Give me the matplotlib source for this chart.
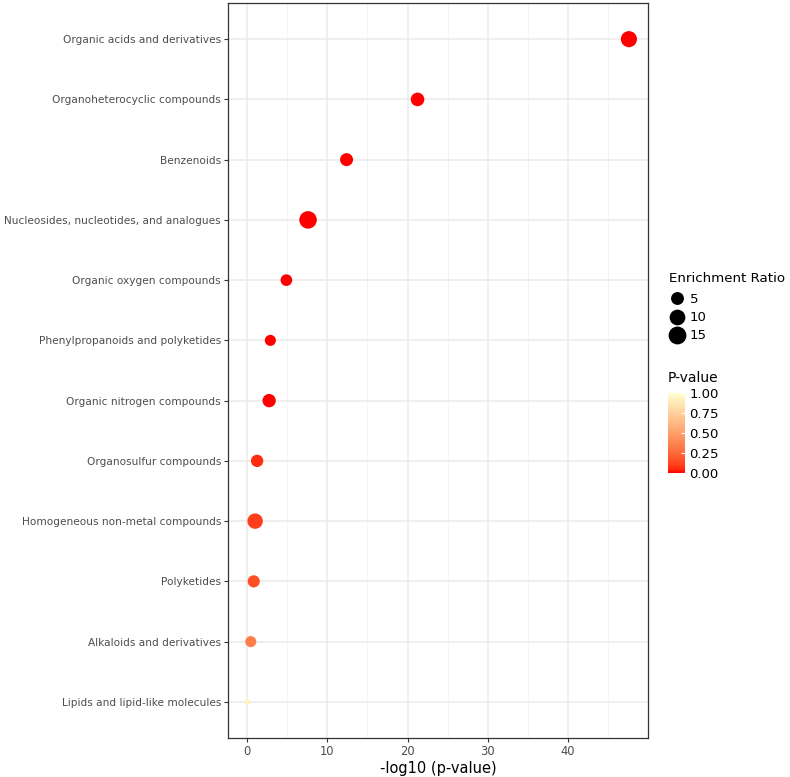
import numpy as np
import matplotlib
matplotlib.use("Agg")
import matplotlib.pyplot as plt
from matplotlib.colors import LinearSegmentedColormap, to_rgb
from matplotlib.lines import Line2D

categories = [
    "Organic acids and derivatives",
    "Organoheterocyclic compounds",
    "Benzenoids",
    "Nucleosides, nucleotides, and analogues",
    "Organic oxygen compounds",
    "Phenylpropanoids and polyketides",
    "Organic nitrogen compounds",
    "Organosulfur compounds",
    "Homogeneous non-metal compounds",
    "Polyketides",
    "Alkaloids and derivatives",
    "Lipids and lipid-like molecules",
]
neg_log_p = [47.6, 21.25, 12.4, 7.6, 4.9, 2.9, 2.75, 1.25, 1.0, 0.83, 0.46, 0.03]
enrichment = [14.2, 8.5, 7.4, 18.0, 5.3, 4.5, 8.0, 6.3, 12.5, 6.0, 4.5, 1.2]
size_breaks = [5, 10, 15]
p_breaks = [0.0, 0.25, 0.5, 0.75, 1.0]

DPI = 100


# ggplot-like gradient: interpolate red -> lightyellow in Lab space
def _lin(c):
    c = np.asarray(c)
    return np.where(c <= 0.04045, c / 12.92, ((c + 0.055) / 1.055) ** 2.4)


def _unlin(c):
    c = np.clip(c, 0, 1)
    return np.where(c <= 0.0031308, c * 12.92, 1.055 * c ** (1 / 2.4) - 0.055)


M = np.array([[0.4124, 0.3576, 0.1805],
              [0.2126, 0.7152, 0.0722],
              [0.0193, 0.1192, 0.9505]])
WHITE = np.array([0.95047, 1.0, 1.08883])


def rgb2lab(rgb):
    xyz = M @ _lin(rgb) / WHITE
    f = np.where(xyz > 0.008856, np.cbrt(xyz), 7.787 * xyz + 16 / 116)
    return np.array([116 * f[1] - 16, 500 * (f[0] - f[1]), 200 * (f[1] - f[2])])


def lab2rgb(lab):
    fy = (lab[0] + 16) / 116
    f = np.array([fy + lab[1] / 500, fy, fy - lab[2] / 200])
    xyz = np.where(f > 0.2069, f ** 3, (f - 16 / 116) / 7.787) * WHITE
    return _unlin(np.linalg.solve(M, xyz))


lo, hi = rgb2lab(to_rgb("#FF0000")), rgb2lab(to_rgb("#FFFFD0"))
stops = [lab2rgb(lo + t * (hi - lo)) for t in np.linspace(0, 1, 21)]
cmap = LinearSegmentedColormap.from_list("pval", stops)

pvals = 10 ** (-np.array(neg_log_p))
ypos = np.arange(len(categories))[::-1] + 1

er = np.array(enrichment)
vmin, vmax = er.min(), er.max()


def marker_area(v):
    d_px = 6 + 11.5 * np.sqrt((np.asarray(v) - vmin) / (vmax - vmin))
    return (d_px * 72 / DPI) ** 2


fig = plt.figure(figsize=(7.9, 7.77), dpi=DPI)
ax = fig.add_axes([228 / 790, 1 - 738 / 777, 420 / 790, 735 / 777])

ax.scatter(neg_log_p, ypos, s=marker_area(er), c=pvals, cmap=cmap,
           vmin=0, vmax=1, edgecolors="none", zorder=3)

ax.set_xlim(-2.38, 49.98)
ax.set_ylim(0.4, len(categories) + 0.6)
ax.set_xticks([0, 10, 20, 30, 40])
ax.set_xticks([5, 15, 25, 35, 45], minor=True)
ax.set_yticks(ypos)
ax.set_yticklabels(categories)
ax.tick_params(axis="both", which="major", length=3, width=0.8, color="#333333",
               labelcolor="#4D4D4D", labelsize=7.6, pad=2)
ax.tick_params(axis="x", labelsize=8.3)
ax.tick_params(axis="x", which="minor", length=0)
ax.grid(True, which="major", color="#EBEBEB", linewidth=1.1, zorder=0)
ax.grid(True, which="minor", axis="x", color="#F2F2F2", linewidth=0.6, zorder=0)
ax.set_axisbelow(True)
for sp in ax.spines.values():
    sp.set_color("#333333")
    sp.set_linewidth(0.9)
ax.set_xlabel("-log10 (p-value)", fontsize=10.5, labelpad=2)

# size legend
handles = [Line2D([], [], linestyle="none", marker="o", color="black",
                  markersize=np.sqrt(marker_area(b))) for b in size_breaks]
leg = fig.legend(handles, [str(b) for b in size_breaks], title="Enrichment Ratio",
                 loc="upper left", bbox_to_anchor=(662 / 790, 1 - 265 / 777),
                 frameon=False, fontsize=9.5, title_fontsize=9.6,
                 handletextpad=0.3, labelspacing=0.4, borderaxespad=0,
                 borderpad=0.5, handlelength=1.3)
leg._legend_box.align = "left"
leg._legend_box.sep = 6

# colour legend
fig.text(668 / 790, 1 - 378 / 777, "P-value", fontsize=10, va="center")
cax = fig.add_axes([668 / 790, 1 - 473 / 777, 17 / 790, 80 / 777])
sm = plt.cm.ScalarMappable(cmap=cmap, norm=plt.Normalize(0, 1))
cb = fig.colorbar(sm, cax=cax, ticks=p_breaks)
cb.ax.set_yticklabels([f"{b:.2f}" for b in p_breaks])
cb.outline.set_visible(False)
cb.ax.tick_params(length=3, color="white", labelsize=9.5, labelcolor="black",
                  pad=3, direction="in")

fig.savefig("out.png", dpi=DPI)
